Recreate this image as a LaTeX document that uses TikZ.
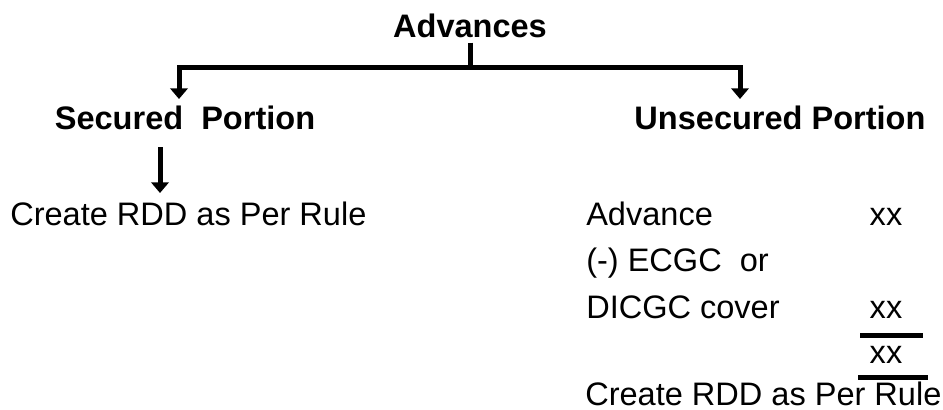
\documentclass[tikz,border=0pt]{standalone}
\usepackage{fontspec}
\setmainfont{Liberation Sans}
\usetikzlibrary{arrows.meta}

\tikzset{
  head/.style={font=\fontsize{24.4}{29}\selectfont\bfseries, inner sep=0pt, anchor=base},
  entry/.style={font=\fontsize{24.4}{29}\selectfont, inner sep=0pt, anchor=base west},
  amt/.style={font=\fontsize{24.4}{29}\selectfont, inner sep=0pt, anchor=base},
  thickline/.style={line width=3.75pt},
  downarrow/.style={thickline, -{Triangle[width=13pt,length=8pt]}},
}

\begin{document}
\begin{tikzpicture}[x=0.75pt, y=-0.75pt]
            \useasboundingbox (0,0) rectangle (943,410);
            % headings
            \node[head] (adv) at (470,38) {Advances};
            \node[head] (sec) at (185,130) {Secured\ \ Portion};
            \node[head] (unsec) at (780,130) {Unsecured Portion};
            \path (adv.south) ++(0,28.5) coordinate (junc);
            \coordinate (secTip) at (179,99);
            \coordinate (unsecTip) at (740,99);
            \draw[thickline, shorten <=3pt] (adv.south) -- (junc);
            \draw[downarrow] (junc) -| (secTip);
            \draw[downarrow] (junc) -| (unsecTip);
            % secured side
            \coordinate (leftTop) at (160,147);
            \coordinate (leftTip) at (160,193);
            \draw[downarrow] (leftTop) -- (leftTip);
            \node[entry] (rddL) at (10,225) {Create RDD as Per Rule};
            % unsecured side
            \node[entry] (adv1) at (586,225) {Advance};
            \node[entry] (less) at (586,271.5) {(-) ECGC\ \ or};
            \node[entry] (cover) at (586,318) {DICGC cover};
            \node[entry] (rddR) at (585,405) {Create RDD as Per Rule};
            \node[amt] (xx1) at (886,225) {xx};
            \node[amt] (xx2) at (886,318) {xx};
            \node[amt] (xx3) at (886,363) {xx};
            \draw[thickline] (860,335.5) -- (923,335.5);
            \draw[thickline] (858,377.5) -- (928,377.5);
\end{tikzpicture}
\end{document}
